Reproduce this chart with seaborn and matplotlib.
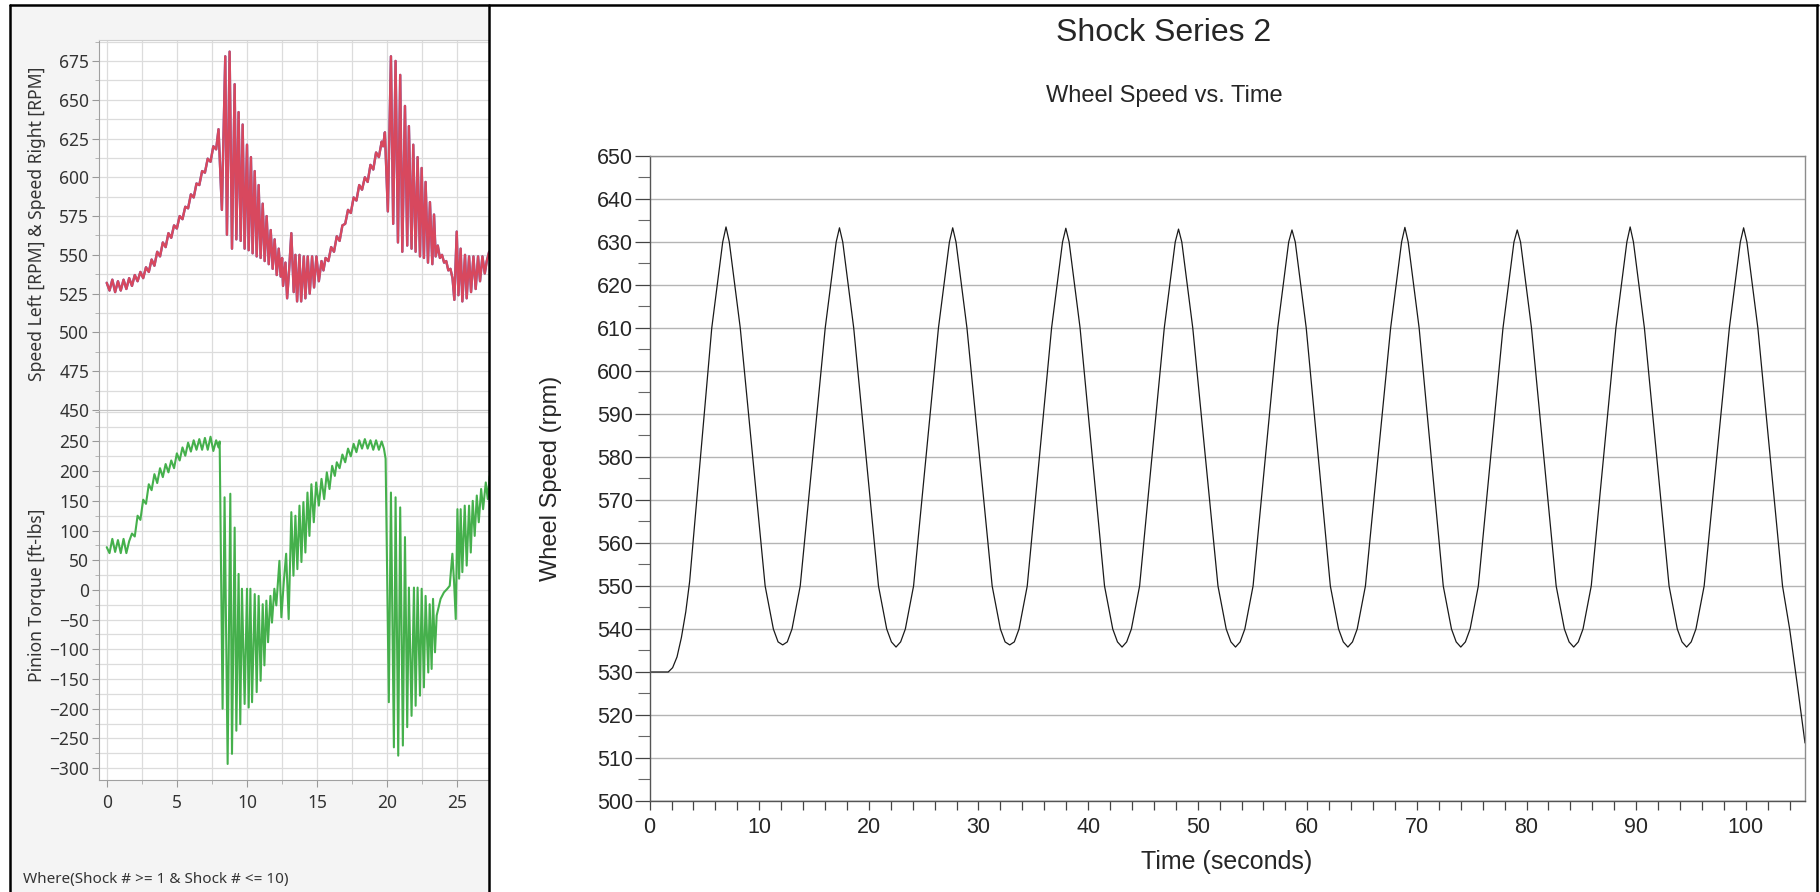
import numpy as np
import pandas as pd
import matplotlib
matplotlib.use("Agg")
import matplotlib.pyplot as plt
import seaborn as sns
from matplotlib.lines import Line2D
from matplotlib.patches import Rectangle
from matplotlib.ticker import MultipleLocator, FixedLocator

# ---------------- data ----------------
# Left panel, top: Speed Left / Speed Right [RPM] vs time (s)
speed_t = [0.0, 0.2, 0.4, 0.6, 0.8, 1.0, 1.2, 1.4, 1.6, 1.8, 2.0, 2.2, 2.4, 2.6, 2.8,
           3.0, 3.2, 3.4, 3.6, 3.8, 4.0, 4.2, 4.4, 4.6, 4.8, 5.0, 5.2, 5.4, 5.6, 5.8,
           6.0, 6.2, 6.4, 6.6, 6.8, 7.0, 7.2, 7.4, 7.6, 7.8, 7.97,
           8.21, 8.45, 8.57, 8.76, 8.93, 9.12, 9.24, 9.40, 9.55, 9.69, 9.83, 10.0, 10.12,
           10.28, 10.40, 10.55, 10.69, 10.83, 10.97, 11.12, 11.26, 11.40, 11.55, 11.69,
           11.83, 11.97, 12.12, 12.26, 12.40, 12.5, 12.57, 12.74, 12.86, 13.0, 13.16,
           13.33, 13.45, 13.57, 13.74, 13.86, 14.05, 14.16, 14.33, 14.47, 14.64, 14.78,
           14.95, 15.12, 15.31, 15.45, 15.6, 15.8, 16.0, 16.2, 16.4, 16.6, 16.8, 17.0,
           17.2, 17.4, 17.6, 17.8, 18.0, 18.2, 18.4, 18.6, 18.8, 19.0, 19.2, 19.4, 19.6,
           19.7, 19.83,
           20.04, 20.26, 20.42, 20.59, 20.76, 20.92, 21.07, 21.26, 21.42, 21.54, 21.73,
           21.85, 22.02, 22.16, 22.33, 22.45, 22.61, 22.73, 22.9, 23.04, 23.21, 23.33,
           23.45, 23.6, 23.75, 23.9, 24.05, 24.2, 24.35, 24.5, 24.65, 24.78, 24.95, 25.07,
           25.23, 25.35, 25.54, 25.66, 25.83, 25.97, 26.14, 26.3, 26.47, 26.61, 26.78,
           26.95, 27.09, 27.26]
speed_rpm = [532, 527, 534, 526, 533, 527, 534, 528, 535, 530, 537, 533, 539, 535, 542,
             539, 547, 543, 552, 549, 558, 555, 564, 561, 569, 567, 575, 573, 581, 580,
             589, 587, 596, 595, 604, 603, 612, 610, 620, 618, 631,
             579, 678, 563, 681, 554, 660, 560, 642, 559, 634, 554, 621, 553,
             613, 551, 604, 549, 595, 548, 583, 546, 575, 544, 566,
             541, 560, 537, 554, 536, 548, 530, 545, 522, 540, 564,
             526, 550, 520, 550, 520, 549, 522, 549, 525, 549, 529,
             549, 533, 546, 540, 548, 546, 555, 552, 562, 559, 569, 570,
             579, 577, 587, 585, 595, 592, 600, 597, 608, 605, 616, 613, 623,
             620, 629,
             578, 678, 570, 675, 558, 666, 552, 646, 556, 633, 554,
             621, 552, 613, 549, 606, 548, 597, 545, 584, 544, 576,
             549, 556, 548, 550, 545, 546, 540, 541, 535, 521, 565, 524,
             554, 520, 550, 522, 549, 526, 549, 528, 549, 533, 549,
             538, 546, 552]

# Left panel, bottom: Pinion Torque [ft-lbs] vs time (s)
torque_t = [0.0, 0.2, 0.4, 0.6, 0.8, 1.0, 1.2, 1.4, 1.6, 1.8, 2.0, 2.2, 2.4, 2.6, 2.8,
            3.0, 3.2, 3.4, 3.6, 3.8, 4.0, 4.2, 4.4, 4.6, 4.8, 5.0, 5.2, 5.4, 5.6, 5.8,
            6.0, 6.2, 6.4, 6.6, 6.8, 7.0, 7.2, 7.4, 7.6, 7.8, 7.97, 8.05,
            8.26, 8.4, 8.62, 8.81, 8.93, 9.12, 9.24, 9.40, 9.52, 9.64, 9.83, 10.0, 10.12,
            10.24, 10.36, 10.55, 10.69, 10.83, 10.97, 11.12, 11.24, 11.38, 11.5, 11.67,
            11.78, 11.95, 12.09, 12.31, 12.45, 12.62, 12.79, 12.97, 13.16, 13.31, 13.45,
            13.59, 13.74, 13.88, 14.02, 14.16, 14.31, 14.45, 14.59, 14.76, 14.93, 15.12,
            15.31, 15.5, 15.69, 15.88, 16.07, 16.26, 16.4, 16.6, 16.8, 17.0, 17.2, 17.4,
            17.6, 17.8, 18.0, 18.2, 18.4, 18.6, 18.8, 19.0, 19.2, 19.4, 19.6, 19.76, 19.88,
            20.11, 20.26, 20.47, 20.59, 20.78, 20.92, 21.11, 21.26, 21.42, 21.54, 21.73,
            21.9, 22.02, 22.16, 22.33, 22.45, 22.61, 22.73, 22.92, 23.02, 23.16, 23.26,
            23.4, 23.52, 23.8, 24.04, 24.28, 24.45, 24.64, 24.76, 24.88, 25.0, 25.12,
            25.23, 25.35, 25.52, 25.66, 25.83, 25.95, 26.09, 26.23, 26.38, 26.52, 26.69,
            26.83, 27.02, 27.16, 27.3]
torque_ftlbs = [72, 62, 86, 64, 84, 62, 86, 62, 82, 95, 90, 125, 118, 152, 145,
                178, 168, 195, 180, 205, 190, 212, 198, 218, 205, 230, 218, 240, 226, 248,
                233, 252, 236, 254, 236, 256, 236, 258, 234, 252, 240, 250,
                -200, 156, -293, 162, -276, 105, -237, 27, -226, 2, -192, 2, -198,
                2, -189, -7, -172, -10, -153, -24, -127, -18, -88, -10,
                -55, 2, -26, 49, -46, 13, 61, -49, 131, 24, 125,
                35, 142, 47, 148, 63, 164, 91, 178, 114, 181, 142,
                187, 153, 198, 170, 209, 192, 215, 205, 228, 215, 238, 225,
                246, 232, 252, 238, 254, 238, 252, 236, 252, 236, 250, 238, 221,
                -189, 164, -265, 156, -279, 139, -262, 89, -231, 4, -212,
                4, -195, 4, -178, 2, -164, -10, -139, -24, -133, -15,
                -105, -43, -15, -4, 2, 7, 61, 13, -49, 136, 19,
                136, 30, 142, 41, 142, 63, 150, 91, 159, 114, 170,
                136, 181, 153, 192]

# Right panel: Wheel Speed (rpm) vs Time (seconds)
wheel_t = [0.0, 1.7, 2.1, 2.5, 2.9, 3.3, 3.65,
           5.67, 6.17, 6.67, 6.97, 7.27, 7.77, 8.27, 10.54, 11.29, 11.72, 12.14, 12.56, 12.99, 13.74,
           16.02, 16.52, 17.02, 17.32, 17.62, 18.12, 18.62, 20.88, 21.63, 22.06, 22.48, 22.9, 23.33, 24.08,
           26.35, 26.85, 27.35, 27.65, 27.95, 28.45, 28.95, 31.25, 32.0, 32.43, 32.85, 33.27, 33.7, 34.45,
           36.67, 37.17, 37.67, 37.97, 38.27, 38.77, 39.27, 41.5, 42.25, 42.68, 43.1, 43.52, 43.95, 44.7,
           46.95, 47.45, 47.95, 48.25, 48.55, 49.05, 49.55, 51.85, 52.6, 53.03, 53.45, 53.87, 54.3, 55.05,
           57.3, 57.8, 58.3, 58.6, 58.9, 59.4, 59.9, 62.1, 62.85, 63.28, 63.7, 64.12, 64.55, 65.3,
           67.6, 68.1, 68.6, 68.9, 69.2, 69.7, 70.2, 72.4, 73.15, 73.58, 74.0, 74.42, 74.85, 75.6,
           77.85, 78.35, 78.85, 79.15, 79.45, 79.95, 80.45, 82.7, 83.45, 83.88, 84.3, 84.72, 85.15, 85.9,
           88.15, 88.65, 89.15, 89.45, 89.75, 90.25, 90.75, 93.0, 93.75, 94.18, 94.6, 95.02, 95.45, 96.2,
           98.5, 99.0, 99.5, 99.8, 100.1, 100.6, 101.1, 103.35, 104.0, 104.7, 105.4]
wheel_rpm = [530, 530, 531, 533.5, 538, 544, 551,
             610, 620, 630, 633.5, 630, 620, 610, 550, 540, 537, 536.3, 537, 540, 550,
             610, 620, 630, 633.3, 630, 620, 610, 550, 540, 537, 535.8, 537, 540, 550,
             610, 620, 630, 633.3, 630, 620, 610, 550, 540, 537, 536.3, 537, 540, 550,
             610, 620, 630, 633.2, 630, 620, 610, 550, 540, 537, 535.8, 537, 540, 550,
             610, 620, 630, 633.0, 630, 620, 610, 550, 540, 537, 535.8, 537, 540, 550,
             610, 620, 630, 632.8, 630, 620, 610, 550, 540, 537, 535.8, 537, 540, 550,
             610, 620, 630, 633.4, 630, 620, 610, 550, 540, 537, 535.8, 537, 540, 550,
             610, 620, 630, 632.8, 630, 620, 610, 550, 540, 537, 535.8, 537, 540, 550,
             610, 620, 630, 633.5, 630, 620, 610, 550, 540, 537, 535.8, 537, 540, 550,
             610, 620, 630, 633.3, 630, 620, 610, 550, 540, 527, 513.5]

left_note = "Where(Shock # >= 1 & Shock # <= 10)"
left_ylabel_top = "Speed Left [RPM] & Speed Right [RPM]"
left_ylabel_bottom = "Pinion Torque [ft-lbs]"
right_title = "Shock Series 2"
right_subtitle = "Wheel Speed vs. Time"
right_xlabel = "Time (seconds)"
right_ylabel = "Wheel Speed (rpm)"

# ---------------- figure ----------------
sns.set_style("white")
plt.rcParams['font.family'] = ['Liberation Sans', 'DejaVu Sans']

W, H = 1820, 892
fig = plt.figure(figsize=(W / 100, H / 100), dpi=100)
fig.patch.set_facecolor("white")


def fx(x):
    return x / W


def fy(y):
    return 1 - y / H


# left panel background
fig.add_artist(Rectangle((fx(10), 0), fx(489) - fx(10), fy(5), transform=fig.transFigure,
                         facecolor="#f4f4f4", edgecolor="none", zorder=-5))

LFONT = ['Noto Sans', 'DejaVu Sans']
RED, BLUE, GREEN = "#d8485e", "#4a6fd1", "#45b04c"

axL1 = fig.add_axes([fx(99), fy(410), fx(489) - fx(99), fy(40) - fy(410)])
axL2 = fig.add_axes([fx(99), fy(780), fx(489) - fx(99), fy(410) - fy(780)], sharex=axL1)

sns.lineplot(x=speed_t, y=speed_rpm, ax=axL1, color=BLUE, linewidth=1.7,
             estimator=None, sort=False, legend=False)
sns.lineplot(x=speed_t, y=speed_rpm, ax=axL1, color=RED, linewidth=1.7,
             estimator=None, sort=False, legend=False)
sns.lineplot(x=torque_t, y=torque_ftlbs, ax=axL2, color=GREEN, linewidth=1.5,
             estimator=None, sort=False, legend=False)

axL1.set_ylim(450, 688.5)
axL2.set_ylim(-320, 303)
axL1.set_xlim(-0.55, 27.25)

axL1.yaxis.set_major_locator(MultipleLocator(25))
axL1.yaxis.set_minor_locator(MultipleLocator(12.5))
axL2.yaxis.set_major_locator(FixedLocator([-300, -250, -200, -150, -100, -50, 0, 50, 100, 150, 200, 250]))
axL2.yaxis.set_minor_locator(MultipleLocator(25))
axL2.xaxis.set_major_locator(MultipleLocator(5))
axL2.xaxis.set_minor_locator(MultipleLocator(2.5))

for ax in (axL1, axL2):
    ax.set_facecolor("white")
    ax.set_xlabel("")
    ax.set_ylabel("")
    ax.grid(which="both", color="#dcdcdc", linewidth=0.9)
    ax.set_axisbelow(True)
    ax.tick_params(which="major", direction="out", length=5, width=0.8, color="#999999",
                   labelsize=12.5, labelcolor="#333333", pad=2, left=True, bottom=True)
    ax.tick_params(which="minor", direction="out", length=3, width=0.6, color="#aaaaaa",
                   left=True, bottom=True)
    ax.spines["right"].set_visible(False)
    ax.spines["left"].set_color("#a0a0a0")
    for lab in ax.get_xticklabels() + ax.get_yticklabels():
        lab.set_family(LFONT)

axL1.spines["bottom"].set_visible(False)
axL1.spines["top"].set_color("#cfcfcf")
axL1.tick_params(axis="x", which="both", bottom=False, labelbottom=False)
axL2.spines["top"].set_color("#c4c4c4")
axL2.spines["bottom"].set_color("#a0a0a0")
axL2.tick_params(axis="x", pad=5)

fig.text(fx(37), fy(224), left_ylabel_top, rotation=90, ha="center", va="center",
         fontsize=12.6, color="#333333", family=LFONT)
fig.text(fx(37), fy(595), left_ylabel_bottom, rotation=90, ha="center", va="center",
         fontsize=12.6, color="#333333", family=LFONT)
fig.text(fx(23), fy(879), left_note, ha="left", va="center", fontsize=11,
         color="#333333", family=LFONT)

# ---------------- right panel ----------------
axR = fig.add_axes([fx(649.6), fy(801), fx(1805) - fx(649.6), fy(156) - fy(801)])
sns.lineplot(x=wheel_t, y=wheel_rpm, ax=axR, color="#1a1a1a", linewidth=0.9,
             estimator=None, sort=False, legend=False)
axR.set_xlim(0, 105.4)
axR.set_ylim(500, 650)
axR.set_xlabel("")
axR.set_ylabel("")
axR.xaxis.set_major_locator(MultipleLocator(10))
axR.xaxis.set_minor_locator(MultipleLocator(2))
axR.yaxis.set_major_locator(MultipleLocator(10))
axR.yaxis.set_minor_locator(MultipleLocator(5))
axR.tick_params(axis="y", which="major", direction="out", length=11, width=0.9,
                color="#444444", labelsize=15.5, pad=1, left=True)
axR.tick_params(axis="y", which="minor", direction="out", length=9, width=0.8,
                color="#666666", left=True)
axR.tick_params(axis="x", which="both", direction="out", length=6.5, width=0.9,
                color="#444444", labelsize=15.5, pad=5, bottom=True)
axR.yaxis.grid(True, which="major", color="#b4b4b4", linewidth=1.0)
axR.set_axisbelow(True)
for tick in axR.yaxis.get_major_ticks():
    if abs(tick.get_loc() - 520) < 1e-6:
        tick.gridline.set_color("#505050")
for side in ("top", "right"):
    axR.spines[side].set_color("#8c8c8c")
    axR.spines[side].set_linewidth(1.0)
for side in ("left", "bottom"):
    axR.spines[side].set_color("#555555")
    axR.spines[side].set_linewidth(1.0)

fig.text(fx(1164), fy(33), right_title, ha="center", va="center", fontsize=23)
fig.text(fx(1164), fy(96), right_subtitle, ha="center", va="center", fontsize=17)
fig.text(fx(1227), fy(862), right_xlabel, ha="center", va="center", fontsize=18)
fig.text(fx(551), fy(478), right_ylabel, ha="center", va="center", rotation=90, fontsize=17)

# ---------------- frame lines ----------------
for (x0, y0, x1, y1) in [(10, 5, 10, 892), (10, 5, 1818, 5), (489, 5, 489, 892), (1817, 5, 1817, 892)]:
    fig.add_artist(Line2D([fx(x0), fx(x1)], [fy(y0), fy(y1)], transform=fig.transFigure,
                          color="black", linewidth=1.8, zorder=10))

fig.savefig("out.png", dpi=100)
